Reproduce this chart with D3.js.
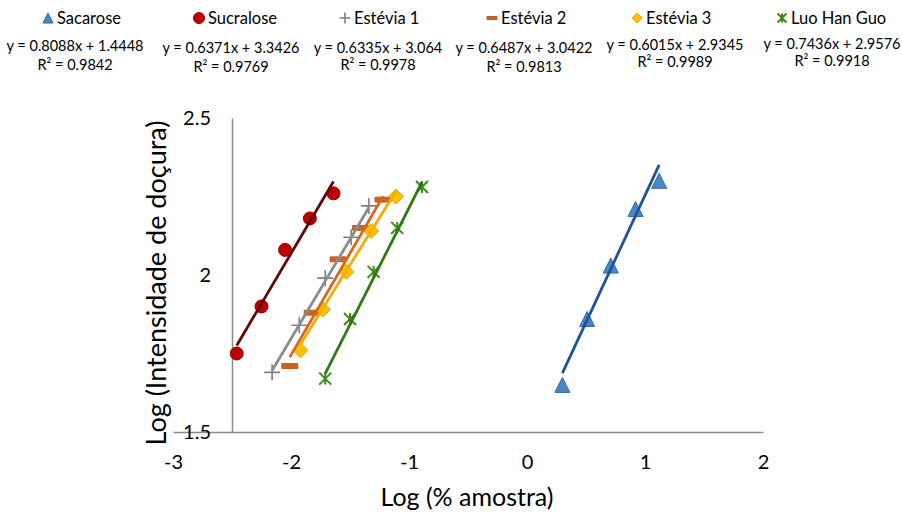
<!DOCTYPE html>
<html>
<head>
<meta charset="utf-8">
<script src="https://cdn.jsdelivr.net/npm/d3@7"></script>
<style>
body{margin:0;background:#fff;}
svg text{font-family:Lato,"Open Sans",sans-serif;fill:#000;}
</style>
</head>
<body>
<div id="chart"></div>
<script>
// values
var seriesNames=["Sacarose","Sucralose","Estévia 1","Estévia 2","Estévia 3","Luo Han Guo"];
var sacaroseX=[0.30,0.51,0.71,0.92,1.12];
var sacaroseY=[1.65,1.86,2.03,2.21,2.30];
var sucraloseX=[-2.46,-2.25,-2.05,-1.84,-1.64];
var sucraloseY=[1.75,1.90,2.08,2.18,2.26];
var estevia1X=[-2.16,-1.93,-1.71,-1.49,-1.34];
var estevia1Y=[1.69,1.84,1.99,2.12,2.22];
var estevia2X=[-2.01,-1.82,-1.60,-1.41,-1.22];
var estevia2Y=[1.71,1.88,2.05,2.15,2.24];
var estevia3X=[-1.92,-1.73,-1.53,-1.32,-1.11];
var estevia3Y=[1.76,1.89,2.01,2.14,2.25];
var luoHanGuoX=[-1.71,-1.50,-1.30,-1.10,-0.89];
var luoHanGuoY=[1.67,1.86,2.01,2.15,2.28];
var slopes=[0.8088,0.6371,0.6335,0.6487,0.6015,0.7436];
var intercepts=["1.4448","3.3426","3.064","3.0422","2.9345","2.9576"];
var rSquared=["0.9842","0.9769","0.9978","0.9813","0.9989","0.9918"];
var xTicks=[-3,-2,-1,0,1,2];
var yTicks=[1.5,2,2.5];

var xs=[sacaroseX,sucraloseX,estevia1X,estevia2X,estevia3X,luoHanGuoX];
var ys=[sacaroseY,sucraloseY,estevia1Y,estevia2Y,estevia3Y,luoHanGuoY];

var styles=[
  {shape:"triangle",fill:"#4a86c6",stroke:"#2f69a8",line:"#1d5496"},
  {shape:"circle",fill:"#c00000",stroke:"#8a0000",line:"#5c0b0b"},
  {shape:"plus",fill:"none",stroke:"#7f7f7f",line:"#8c8c8c"},
  {shape:"dash",fill:"#d0621c",stroke:"#c0561a",line:"#d2691e"},
  {shape:"diamond",fill:"#ffc000",stroke:"#eaa800",line:"#f2ac00"},
  {shape:"star",fill:"none",stroke:"#3c8a1c",line:"#2f7a12"}
];

// legend layout
var legendMarkerX=[48,199,345,492,637,782];
var eqCenterX=[75,231,378,524,675,832];
var eqY=[51,53,53,53,50,49];
var r2Y=[70,72,70,72,67,66];

var width=902,height=516;

var svg=d3.select("#chart").append("svg")
  .attr("width",width)
  .attr("height",height);

svg.append("rect").attr("width",width).attr("height",height).attr("fill","#fff");

var x=d3.scaleLinear().domain([-3,2]).range([173,763]);
var y=d3.scaleLinear().domain([1.5,2.5]).range([432,118]);

function markerPath(shape,s){
  if(shape=="triangle") return "M0,"+(-s)+"L"+s+","+s+"L"+(-s)+","+s+"Z";
  if(shape=="plus") return "M"+(-s)+",0H"+s+"M0,"+(-s)+"V"+s;
  if(shape=="dash") return "M"+(-s)+","+(-s*0.3)+"H"+s+"V"+(s*0.3)+"H"+(-s)+"Z";
  if(shape=="diamond") return "M0,"+(-s)+"L"+s+",0L0,"+s+"L"+(-s)+",0Z";
  if(shape=="star") return "M"+(-s)+","+(-s)+"L"+s+","+s+"M"+s+","+(-s)+"L"+(-s)+","+s+"M0,"+(-s)+"V"+s;
  return d3.symbol(d3.symbolCircle,Math.PI*s*s)();
}
var markerSize={triangle:7.5,circle:6.5,plus:8,dash:8,diamond:7.5,star:6};
var legendSize={triangle:5,circle:5.5,plus:5.5,dash:5,diamond:5,star:4.5};

function drawMarker(g,st,s){
  var p=g.append("path").attr("d",markerPath(st.shape,s));
  if(st.shape=="plus"||st.shape=="star"){
    p.attr("fill","none").attr("stroke",st.stroke).attr("stroke-width",st.shape=="star"?2:1.6);
  }else{
    p.attr("fill",st.fill).attr("stroke",st.stroke).attr("stroke-width",1);
  }
  return p;
}

// axes
var xAxis=svg.append("g")
  .attr("transform","translate(0,"+y(1.5)+")")
  .call(d3.axisBottom(x).tickValues(xTicks).tickSize(0).tickPadding(23).tickFormat(function(d){return String(d);}));
var yAxis=svg.append("g")
  .attr("transform","translate("+x(-2.5)+",0)")
  .call(d3.axisLeft(y).tickValues(yTicks).tickSize(0).tickPadding(21).tickFormat(function(d){return String(d);}));
svg.selectAll(".domain").attr("stroke","#8c8c8c").attr("stroke-width",1.5);
svg.selectAll(".tick text").style("font-size","20px").style("font-family","Lato,sans-serif").attr("fill","#000");

// markers, then trend lines on top
seriesNames.forEach(function(name,i){
  var st=styles[i];
  var pts=xs[i].map(function(v,j){return [v,ys[i][j]];});
  var g=svg.append("g").attr("class","series");
  pts.forEach(function(p){
    drawMarker(g.append("g").attr("transform","translate("+x(p[0])+","+y(p[1])+")"),st,markerSize[st.shape]);
  });
});
seriesNames.forEach(function(name,i){
  var st=styles[i];
  var ext=d3.extent(xs[i]);
  var b=+intercepts[i];
  svg.append("line")
    .attr("x1",x(ext[0])).attr("y1",y(slopes[i]*ext[0]+b))
    .attr("x2",x(ext[1])).attr("y2",y(slopes[i]*ext[1]+b))
    .attr("stroke",st.line).attr("stroke-width",2.8);
});

// legend with equations
seriesNames.forEach(function(name,i){
  var st=styles[i];
  var lg=svg.append("g");
  drawMarker(lg.append("g").attr("transform","translate("+legendMarkerX[i]+",18)"),st,legendSize[st.shape]);
  lg.append("text").attr("x",legendMarkerX[i]+9).attr("y",24).style("font-size","16.5px").text(name);
  lg.append("text").attr("x",eqCenterX[i]).attr("y",eqY[i]).attr("text-anchor","middle").style("font-size","14.5px")
    .text("y = "+slopes[i]+"x + "+intercepts[i]);
  lg.append("text").attr("x",eqCenterX[i]).attr("y",r2Y[i]).attr("text-anchor","middle").style("font-size","14.5px")
    .text("R² = "+rSquared[i]);
});

// axis titles
svg.append("text").attr("x",467).attr("y",506).attr("text-anchor","middle").style("font-size","25px").text("Log (% amostra)");
svg.append("text").attr("transform","translate(166,283) rotate(-90)").attr("text-anchor","middle").style("font-size","27px").text("Log (Intensidade de doçura)");
</script>
</body>
</html>
